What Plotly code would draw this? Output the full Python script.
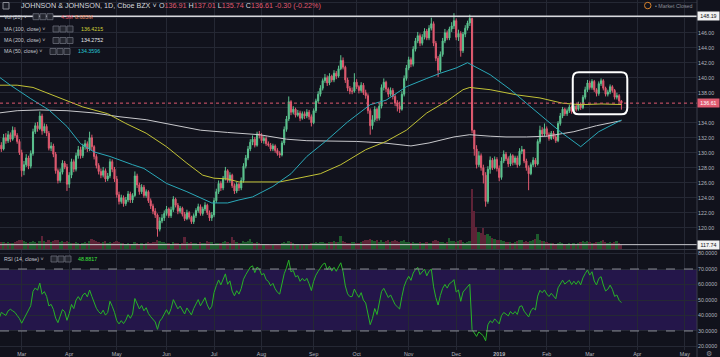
import pandas as pd
import plotly.graph_objects as go

# ---------------- data ----------------
first_open = 130.6
close_feb18 = [131.0, 130.5, 132.0, 131.6, 132.4, 131.8, 133.0, 132.3, 131.5, 130.0]
high_feb18 = [131.6, 131.4, 132.5, 132.6, 132.9, 132.7, 133.5, 133.4, 132.6, 131.8]
low_feb18 = [129.9, 130.1, 130.3, 131.2, 131.3, 131.4, 131.6, 132.0, 131.2, 129.7]
close_mar18 = [127.6, 128.4, 129.3, 128.2, 129.9, 132.8, 133.6, 133.2, 134.9, 132.9, 133.5, 132.6, 130.6, 130.9, 129.8, 127.6, 126.3, 127.4, 128.6, 128.1]
high_mar18 = [130.4, 128.9, 129.8, 129.6, 130.3, 133.2, 134.0, 134.1, 135.5, 135.2, 133.9, 133.8, 132.9, 131.4, 131.2, 130.1, 127.9, 127.9, 129.0, 128.9]
low_mar18 = [126.8, 127.0, 128.1, 127.8, 127.9, 129.6, 132.5, 132.8, 133.0, 132.4, 132.6, 132.2, 130.3, 130.2, 129.4, 127.2, 125.9, 126.0, 127.1, 127.8]
close_apr18 = [125.8, 127.0, 128.8, 127.8, 129.6, 130.4, 129.6, 130.8, 131.2, 130.5, 132.0, 130.8, 129.5, 128.3, 127.5, 127.0, 127.6, 126.5, 126.9, 128.8, 127.8]
high_apr18 = [128.5, 127.4, 129.2, 129.1, 130.0, 130.9, 130.8, 131.2, 131.7, 131.5, 132.8, 132.4, 131.0, 129.8, 128.6, 127.9, 128.1, 127.9, 127.3, 129.2, 129.1]
low_apr18 = [124.9, 125.3, 126.6, 127.4, 127.5, 129.2, 129.2, 129.3, 130.4, 130.1, 130.2, 130.3, 129.1, 127.9, 127.1, 126.6, 126.7, 126.1, 126.2, 126.6, 127.4]
close_may18 = [126.5, 124.4, 123.5, 124.0, 123.2, 123.7, 124.5, 123.7, 124.3, 126.9, 125.7, 124.8, 125.4, 124.3, 124.8, 123.6, 122.9, 122.2, 121.7, 119.8, 120.9, 121.3]
high_may18 = [128.1, 126.9, 124.8, 124.4, 124.3, 124.1, 124.9, 124.8, 124.6, 127.5, 127.2, 126.0, 125.8, 125.7, 125.1, 125.0, 123.9, 123.2, 122.6, 121.9, 121.4, 121.8]
low_may18 = [126.1, 124.0, 123.1, 123.2, 122.8, 122.9, 123.4, 123.3, 123.3, 124.1, 125.3, 124.4, 124.5, 124.0, 124.0, 123.3, 122.5, 121.8, 121.3, 118.8, 119.5, 120.6]
close_jun18 = [121.9, 122.5, 121.6, 122.4, 123.8, 123.0, 122.2, 122.6, 121.8, 121.2, 122.0, 121.4, 120.8, 121.6, 122.3, 122.8, 121.9, 122.5, 123.0, 122.0, 121.3]
high_jun18 = [122.3, 122.9, 122.7, 122.8, 124.2, 124.0, 123.3, 122.9, 122.8, 122.1, 122.4, 122.2, 121.6, 121.9, 122.6, 123.2, 123.1, 122.8, 123.4, 123.2, 122.3]
low_jun18 = [120.9, 121.6, 121.3, 121.3, 122.1, 122.7, 121.8, 121.9, 121.5, 120.9, 121.0, 121.1, 120.5, 120.5, 121.3, 122.0, 121.6, 121.6, 122.2, 121.7, 120.9]
close_jul18 = [121.7, 123.6, 124.8, 125.9, 125.3, 126.6, 127.6, 126.3, 127.0, 125.6, 124.9, 125.8, 125.3, 126.3, 128.2, 129.3, 130.5, 131.4, 131.8, 131.0, 132.5]
high_jul18 = [122.1, 124.0, 125.2, 126.3, 126.2, 126.9, 128.1, 127.8, 127.4, 127.2, 125.9, 126.1, 126.0, 126.7, 128.6, 129.7, 130.9, 131.8, 132.3, 132.1, 132.8]
low_jul18 = [120.9, 121.4, 123.3, 124.5, 124.9, 125.0, 126.3, 126.0, 126.0, 125.3, 124.5, 124.6, 124.9, 125.0, 126.0, 127.9, 129.0, 130.2, 131.0, 130.7, 130.8]
close_aug18 = [132.3, 131.6, 131.9, 131.2, 131.0, 130.5, 130.9, 130.3, 129.9, 129.7, 131.3, 133.1, 134.5, 136.8, 135.4, 135.8, 135.0, 135.3, 134.6, 135.2, 134.9, 135.4, 134.8]
high_aug18 = [132.9, 132.6, 132.2, 132.2, 131.5, 131.3, 131.2, 131.1, 130.6, 130.2, 131.6, 133.5, 134.9, 137.5, 137.0, 136.2, 136.0, 135.7, 135.6, 135.5, 135.5, 135.8, 135.7]
low_aug18 = [131.9, 131.3, 131.2, 130.9, 130.8, 130.2, 130.2, 130.0, 129.6, 129.3, 129.5, 131.0, 132.8, 134.2, 135.0, 135.1, 134.7, 134.8, 134.2, 134.4, 134.5, 134.6, 134.4]
close_sep18 = [134.0, 135.6, 136.9, 137.8, 138.6, 139.6, 140.0, 139.3, 140.2, 139.7, 140.6, 140.2, 141.2, 142.3, 141.4, 139.7, 138.6, 138.2, 138.2]
high_sep18 = [135.1, 135.9, 137.2, 138.2, 139.0, 139.9, 140.5, 140.3, 140.6, 140.4, 141.0, 140.9, 141.6, 143.0, 142.7, 141.6, 140.0, 138.9, 138.7]
low_sep18 = [133.5, 133.8, 135.3, 136.6, 137.5, 138.3, 139.3, 138.9, 139.0, 139.4, 139.4, 139.8, 140.0, 141.0, 141.1, 139.3, 138.2, 137.8, 137.8]
close_oct18 = [139.4, 138.8, 138.3, 139.0, 138.0, 137.6, 135.6, 133.6, 134.4, 135.8, 134.6, 136.2, 138.7, 139.4, 138.5, 137.8, 138.3, 137.5, 136.6, 136.2, 135.8, 137.8, 139.9]
high_oct18 = [140.6, 139.8, 139.0, 139.4, 139.3, 138.4, 137.9, 135.9, 135.0, 136.2, 136.0, 136.6, 139.1, 139.9, 139.6, 138.7, 138.7, 138.6, 137.8, 137.0, 136.8, 138.2, 140.3]
low_oct18 = [138.0, 138.5, 137.9, 138.0, 137.7, 137.2, 135.2, 132.4, 133.1, 134.1, 134.2, 134.3, 135.9, 138.3, 138.1, 137.4, 137.5, 137.1, 136.2, 135.5, 135.3, 135.6, 137.5]
close_nov18 = [141.3, 142.4, 141.8, 143.8, 144.9, 145.6, 144.6, 145.4, 146.2, 145.3, 146.6, 147.2, 144.6, 142.6, 141.0, 143.1, 144.9, 146.0, 145.3, 146.5, 146.9]
high_nov18 = [141.7, 142.8, 142.7, 144.2, 145.3, 146.1, 145.9, 145.8, 146.6, 146.5, 147.0, 148.0, 147.5, 144.9, 142.9, 143.5, 145.3, 146.5, 146.3, 146.8, 147.4]
low_nov18 = [139.6, 141.0, 141.4, 141.5, 143.5, 144.6, 144.2, 144.3, 145.1, 145.0, 145.0, 146.3, 144.2, 142.2, 140.1, 140.7, 142.8, 144.6, 145.0, 145.0, 146.1]
close_dec18 = [147.6, 145.4, 145.9, 143.6, 145.8, 146.6, 147.3, 147.9, 133.0, 130.5, 128.4, 129.6, 128.0, 127.0, 123.5, 127.8, 129.0, 128.0, 129.1]
high_dec18 = [148.6, 147.9, 146.4, 146.2, 146.1, 147.0, 147.6, 148.4, 148.0, 132.5, 131.0, 130.2, 129.9, 128.4, 127.4, 128.2, 129.5, 129.3, 129.5]
low_dec18 = [146.5, 145.0, 144.9, 142.8, 143.3, 145.4, 146.3, 146.9, 132.6, 129.6, 127.9, 128.1, 127.6, 125.9, 122.8, 123.2, 127.2, 127.7, 127.8]
close_jan19 = [127.9, 126.7, 128.9, 129.8, 129.2, 128.5, 129.6, 128.7, 129.3, 128.4, 130.2, 130.4, 128.9, 128.0, 127.2, 128.4, 129.0, 128.5, 131.5, 133.0, 132.5]
high_jan19 = [129.4, 128.3, 129.4, 130.3, 130.1, 129.5, 129.9, 129.8, 129.6, 129.6, 130.6, 130.9, 130.5, 129.2, 128.3, 128.7, 129.4, 129.3, 131.8, 133.6, 133.4]
low_jan19 = [127.5, 126.2, 126.4, 128.6, 128.9, 128.1, 128.2, 128.3, 128.4, 128.0, 128.2, 129.8, 128.6, 127.6, 125.0, 127.0, 128.1, 128.1, 128.3, 131.2, 132.1]
close_feb19 = [133.2, 132.4, 131.9, 132.6, 132.1, 131.6, 133.9, 134.9, 135.8, 135.2, 135.6, 136.1, 135.5, 136.2, 135.8, 136.5, 136.0, 137.4, 138.4]
high_feb19 = [133.9, 133.5, 132.7, 132.9, 132.9, 132.4, 134.2, 135.3, 136.1, 136.0, 135.9, 136.4, 136.3, 136.5, 136.4, 136.8, 136.7, 137.7, 138.8]
low_feb19 = [132.2, 132.1, 131.6, 131.7, 131.8, 131.3, 131.4, 133.6, 134.6, 134.9, 134.9, 135.3, 135.2, 135.3, 135.5, 135.6, 135.7, 135.8, 137.1]
close_mar19 = [139.3, 138.7, 139.5, 138.4, 137.9, 139.2, 139.6, 138.6, 137.8, 138.1, 138.8, 138.3, 137.4, 137.6, 136.91, 136.61]
high_mar19 = [139.7, 139.6, 139.8, 139.7, 138.6, 139.5, 139.9, 139.8, 138.8, 138.4, 139.1, 139.0, 138.5, 138.0, 137.8, 137.01]
low_mar19 = [138.1, 138.4, 138.4, 138.1, 137.5, 137.6, 138.9, 138.3, 137.5, 137.5, 137.8, 138.0, 137.1, 137.1, 136.7, 135.74]

# volume, millions
vol_feb18 = [9, 8, 8, 7, 8, 7, 7, 8, 9, 10]
vol_mar18 = [11, 9, 8, 7, 8, 9, 8, 7, 9, 15, 9, 8, 10, 8, 9, 11, 10, 8, 9, 8]
vol_apr18 = [9, 8, 7, 7, 8, 7, 6, 7, 8, 7, 9, 12, 11, 9, 8, 7, 8, 9, 7, 8, 7]
vol_may18 = [8, 9, 8, 7, 7, 6, 7, 6, 6, 8, 7, 6, 7, 6, 7, 8, 7, 8, 8, 10, 9, 8]
vol_jun18 = [8, 7, 7, 6, 8, 7, 7, 6, 7, 14, 8, 7, 8, 7, 7, 6, 8, 7, 7, 9, 8]
vol_jul18 = [8, 6, 7, 7, 7, 8, 9, 8, 7, 14, 10, 8, 7, 7, 9, 8, 9, 12, 8, 7, 8]
vol_aug18 = [7, 6, 6, 6, 6, 5, 5, 6, 6, 6, 7, 8, 7, 9, 8, 7, 6, 6, 5, 5, 6, 6, 6]
vol_sep18 = [7, 7, 8, 7, 8, 8, 7, 7, 8, 8, 9, 8, 8, 15, 9, 8, 7, 7, 8]
vol_oct18 = [8, 7, 7, 8, 9, 10, 11, 12, 10, 9, 11, 8, 10, 8, 9, 10, 8, 9, 11, 9, 8, 9, 10]
vol_nov18 = [8, 8, 7, 8, 7, 7, 8, 7, 7, 8, 7, 7, 9, 10, 9, 8, 8, 7, 8, 13, 9]
vol_dec18 = [9, 8, 9, 10, 8, 7, 8, 9, 70, 44, 26, 20, 19, 24, 16, 18, 15, 13, 12]
vol_jan19 = [11, 10, 10, 9, 8, 8, 8, 7, 8, 9, 10, 10, 8, 9, 8, 9, 10, 12, 18, 10, 9]
vol_feb19 = [9, 8, 7, 7, 7, 6, 7, 8, 7, 6, 6, 7, 6, 7, 6, 7, 8, 9, 8]
vol_mar19 = [9, 8, 7, 7, 8, 8, 9, 11, 8, 7, 8, 7, 8, 9, 7, 4.3]

# RSI readings for the first 14 bars (before the 14-bar window fills)
rsi_head = [38, 42, 41, 40, 43, 44, 43, 42, 40, 38, 35, 38, 41, 43]

# moving averages: (bar index, value)
ma50_idx = [0, 5, 14, 22, 30, 36, 42, 49, 59, 64, 74, 83, 94, 101, 106, 112, 121, 129, 136, 145, 154, 164, 171, 180, 189, 195, 202, 207, 217, 226, 233, 240, 248, 257, 265, 275]
ma50_val = [140.1, 139.0, 137.2, 135.7, 133.5, 131.2, 130.1, 129.5, 128.4, 127.9, 125.9, 124.8, 123.3, 123.3, 123.7, 124.1, 125.5, 127.2, 129.5, 131.7, 134.1, 136.4, 137.0, 138.8, 139.9, 140.6, 141.3, 142.0, 140.4, 138.4, 136.6, 134.8, 132.8, 130.8, 132.8, 134.3596]
ma100_idx = [0, 8, 15, 22, 30, 37, 48, 56, 65, 74, 83, 90, 95, 101, 106, 124, 142, 151, 162, 171, 180, 189, 198, 205, 208, 217, 229, 239, 249, 257, 266, 275]
ma100_val = [139.0, 139.0, 138.7, 137.9, 137.0, 136.1, 135.2, 133.9, 132.6, 130.8, 128.6, 127.0, 126.6, 126.5, 126.1, 126.1, 127.2, 128.4, 130.4, 131.5, 133.0, 135.3, 136.9, 138.4, 138.7, 138.4, 137.7, 137.3, 136.6, 136.4, 136.5, 136.4215]
ma200_idx = [0, 8, 18, 30, 42, 53, 65, 77, 89, 101, 106, 115, 127, 136, 158, 170, 182, 190, 201, 208, 217, 224, 233, 242, 254, 264, 275]
ma200_val = [135.3, 135.6, 135.7, 135.6, 135.3, 134.8, 134.4, 133.7, 133.0, 132.7, 132.6, 132.4, 131.8, 131.6, 131.5, 131.3, 130.9, 131.3, 132.1, 132.4, 132.2, 132.1, 132.1, 132.2, 132.8, 133.6, 134.2752]

holidays = ["2018-02-19", "2018-03-30", "2018-05-28", "2018-07-04", "2018-09-03", "2018-11-22",
            "2018-12-05", "2018-12-25", "2019-01-01", "2019-01-21", "2019-02-18", "2019-04-19", "2019-05-27"]
month_names = ["2019", "Feb", "Mar", "Apr", "May", "Jun", "Jul", "Aug", "Sep", "Oct", "Nov", "Dec"]
price_ticks = [120, 122, 124, 126, 128, 130, 132, 134, 136, 138, 140, 142, 144, 146, 148, 150]
hline_top = 148.19
hline_bottom = 117.74
last_price = 136.61

# ---------------- assemble ----------------
closes = (close_feb18 + close_mar18 + close_apr18 + close_may18 + close_jun18 + close_jul18 + close_aug18 +
          close_sep18 + close_oct18 + close_nov18 + close_dec18 + close_jan19 + close_feb19 + close_mar19)
highs = (high_feb18 + high_mar18 + high_apr18 + high_may18 + high_jun18 + high_jul18 + high_aug18 +
         high_sep18 + high_oct18 + high_nov18 + high_dec18 + high_jan19 + high_feb19 + high_mar19)
lows = (low_feb18 + low_mar18 + low_apr18 + low_may18 + low_jun18 + low_jul18 + low_aug18 +
        low_sep18 + low_oct18 + low_nov18 + low_dec18 + low_jan19 + low_feb19 + low_mar19)
vols = (vol_feb18 + vol_mar18 + vol_apr18 + vol_may18 + vol_jun18 + vol_jul18 + vol_aug18 +
        vol_sep18 + vol_oct18 + vol_nov18 + vol_dec18 + vol_jan19 + vol_feb19 + vol_mar19)
opens = [first_open] + closes[:-1]
n = len(closes)
idx = list(range(n))

hol = set(pd.to_datetime(holidays))
days = [d for d in pd.bdate_range("2018-02-14", "2019-05-31") if d not in hol]
tick_idx, tick_txt = [], []
for i in range(1, len(days)):
    if days[i].month != days[i - 1].month:
        tick_idx.append(i)
        t = month_names[days[i].month - 1]
        tick_txt.append("<b>2019</b>" if t == "2019" else t)

def rsi_calc(c, p=14):
    out = [None] * len(c)
    g = [max(c[i] - c[i - 1], 0) for i in range(1, len(c))]
    l = [max(c[i - 1] - c[i], 0) for i in range(1, len(c))]
    ag = sum(g[:p]) / p
    al = sum(l[:p]) / p
    out[p] = 100 - 100 / (1 + ag / al)
    for i in range(p + 1, len(c)):
        ag = (ag * (p - 1) + g[i - 1]) / p
        al = (al * (p - 1) + l[i - 1]) / p
        out[i] = 100 - 100 / (1 + ag / al)
    return out

rsi = rsi_calc(closes)
rsi[:len(rsi_head)] = rsi_head

UP, DN = "#5cc38f", "#e05a70"
BG = "#11121c"
GRID = "#252834"
TXT = "#b2b5be"
FONT = "Liberation Sans, Arial, sans-serif"

W_PLOT, H_PLOT = 697.0, 350.0
def px(x):
    return x / W_PLOT
def py(y):
    return 1 - y / H_PLOT

fig = go.Figure()
vcol = ["#1d5a2c" if closes[i] >= opens[i] else "#5e2337" for i in idx]
fig.add_trace(go.Bar(x=idx, y=vols, marker_color=vcol, marker_line_width=0, width=0.8,
                     xaxis="x", yaxis="y3", hoverinfo="skip"))
fig.add_trace(go.Candlestick(x=idx, open=opens, high=highs, low=lows, close=closes,
                             increasing=dict(line=dict(color=UP, width=1), fillcolor=UP),
                             decreasing=dict(line=dict(color=DN, width=1), fillcolor=DN),
                             whiskerwidth=0, xaxis="x", yaxis="y"))
fig.add_trace(go.Scatter(x=ma200_idx, y=ma200_val, mode="lines", line=dict(color="#c8c8cc", width=1), xaxis="x", yaxis="y"))
fig.add_trace(go.Scatter(x=ma100_idx, y=ma100_val, mode="lines", line=dict(color="#c2c236", width=1), xaxis="x", yaxis="y"))
fig.add_trace(go.Scatter(x=ma50_idx, y=ma50_val, mode="lines", line=dict(color="#2aa8b8", width=1), xaxis="x", yaxis="y"))
fig.add_trace(go.Scatter(x=idx, y=rsi, mode="lines", line=dict(color="#27b327", width=1), xaxis="x2", yaxis="y2"))

price_dom = [1 - 249 / H_PLOT, 1]
rsi_dom = [0, 1 - 250 / H_PLOT]
xr = [0.41, 308.4]

shapes = []
shapes.append(dict(type="rect", xref="paper", yref="y2", x0=0, x1=1, y0=30, y1=70,
                   fillcolor="#24164a", line_width=0, layer="below"))
for lv in (70, 30):
    shapes.append(dict(type="line", xref="paper", yref="y2", x0=0, x1=1, y0=lv, y1=lv,
                       line=dict(color="#8c8e99", width=1, dash="dash")))
shapes.append(dict(type="line", xref="paper", yref="y", x0=0, x1=1, y0=hline_top, y1=hline_top,
                   line=dict(color="#d8d8dc", width=1.5)))
shapes.append(dict(type="line", xref="paper", yref="y", x0=0, x1=1, y0=hline_bottom, y1=hline_bottom,
                   line=dict(color="#c8c8cc", width=1)))
shapes.append(dict(type="line", xref="paper", yref="y", x0=0, x1=1, y0=last_price, y1=last_price,
                   line=dict(color=DN, width=1, dash="dot")))
x0, x1, y0, y1 = 253.5, 277.6, 135.12, 140.72
rx, ry = 2.7, 0.85
path = (f"M {x0+rx},{y1} L {x1-rx},{y1} Q {x1},{y1} {x1},{y1-ry} L {x1},{y0+ry} Q {x1},{y0} {x1-rx},{y0} "
        f"L {x0+rx},{y0} Q {x0},{y0} {x0},{y0+ry} L {x0},{y1-ry} Q {x0},{y1} {x0+rx},{y1} Z")
shapes.append(dict(type="path", xref="x", yref="y", path=path, line=dict(color="#ffffff", width=2)))
shapes.append(dict(type="line", xref="paper", yref="paper", x0=0, x1=1, y0=py(249.5), y1=py(249.5),
                   line=dict(color="#3a3d48", width=1)))
shapes.append(dict(type="line", xref="paper", yref="paper", x0=1, x1=1, y0=py(357), y1=1,
                   line=dict(color="#3a3d48", width=1)))
shapes.append(dict(type="rect", xref="paper", yref="paper", x0=px(3), x1=px(9), y0=py(9), y1=py(2.5),
                   line=dict(color="#8a8d96", width=1), fillcolor="#1c1e28"))
def buttons(xs, ymid):
    for k in range(3):
        xa = xs + k * 7
        shapes.append(dict(type="rect", xref="paper", yref="paper", x0=px(xa), x1=px(xa + 6),
                           y0=py(ymid + 3), y1=py(ymid - 3), line=dict(color="#6a6d78", width=0.8),
                           fillcolor="#24262f"))
buttons(33, 16.7)
buttons(53, 29)
buttons(53, 40.5)
buttons(50, 51.5)
buttons(51, 259)
shapes.append(dict(type="circle", xref="paper", yref="paper", x0=px(644.5), x1=px(651), y0=py(8.8), y1=py(2.3),
                   line=dict(color="#d9822b", width=1)))

ann = []
def txt(x, y, s, size=5.3, color=TXT, xanchor="left"):
    ann.append(dict(xref="paper", yref="paper", x=px(x), y=py(y), text=s, showarrow=False,
                    xanchor=xanchor, yanchor="middle", font=dict(family=FONT, size=size, color=color)))

txt(19, 5.7, "JOHNSON & JOHNSON, 1D, Cboe BZX ˅", size=7.2, color="#d6d8de")
r = DN
txt(157, 5.7, f"O<span style='color:{r}'>136.91</span> H<span style='color:{r}'>137.01</span> "
    f"L<span style='color:{r}'>135.74</span> C<span style='color:{r}'>136.61</span> "
    f"<span style='color:{r}'>-0.30 (-0.22%)</span>", size=7.2, color="#d6d8de")
txt(2, 16.7, "Vol (20) ˅", color="#c4c6ce")
txt(58.5, 16.7, "4.3M", color="#e0505f")
txt(73, 16.7, "8.685M", color="#e8875f")
txt(2, 29, "MA (100, close) ˅", color="#c4c6ce")
txt(79, 29, "136.4215", color="#d4d43a")
txt(2, 40.5, "MA (200, close) ˅", color="#c4c6ce")
txt(79, 40.5, "134.2752", color="#e8e8ea")
txt(2, 51.5, "MA (50, close) ˅", color="#c4c6ce")
txt(76, 51.5, "134.3596", color="#27c4d4")
txt(2, 259, "RSI (14, close) ˅", color="#c4c6ce")
txt(76, 259, "48.8817", color="#3ee63e")
txt(653, 5.6, "• Market Closed", size=5.3, color="#8a8d96")
txt(708.5, 353, "⚙", size=7, color="#8a8d96", xanchor="center")

for val, bg, fg in ((hline_top, "#f2f2f2", "#111111"), (last_price, DN, "#ffffff"), (hline_bottom, "#f2f2f2", "#111111")):
    ann.append(dict(xref="paper", yref="y", x=1.0, y=val, text=f"{val:.2f}", showarrow=False,
                    xanchor="left", yanchor="middle", bgcolor=bg, borderpad=1, width=19,
                    font=dict(family=FONT, size=5.3, color=fg)))

# tick labels hidden where a price box sits on top of them
price_ticktext = ["" if t in (136, 148) else f"{t:.2f}" for t in price_ticks]

fig.update_layout(
    width=720, height=357, margin=dict(l=0, r=23, t=0, b=7, autoexpand=False),
    paper_bgcolor=BG, plot_bgcolor=BG, showlegend=False, bargap=0,
    shapes=shapes, annotations=ann,
    font=dict(family=FONT, size=5.3, color=TXT),
    xaxis=dict(domain=[0, 1], anchor="y", range=xr, tickvals=tick_idx, showticklabels=False,
               showgrid=True, gridcolor=GRID, gridwidth=1, zeroline=False, rangeslider=dict(visible=False),
               ticks="", automargin=False),
    xaxis2=dict(domain=[0, 1], anchor="y2", matches="x", range=xr, tickvals=tick_idx, ticktext=tick_txt,
                showgrid=True, gridcolor=GRID, gridwidth=1, zeroline=False, ticks="", automargin=False,
                tickfont=dict(family=FONT, size=5.3, color=TXT), rangeslider=dict(visible=False)),
    yaxis=dict(domain=price_dom, anchor="x", side="right", range=[117.16, 150.36], automargin=False,
               tickvals=price_ticks, ticktext=price_ticktext, showgrid=True, gridcolor=GRID,
               zeroline=False, ticks="", tickfont=dict(family=FONT, size=5.3, color=TXT)),
    yaxis3=dict(overlaying="y", anchor="x", range=[0, 290], visible=False, automargin=False),
    yaxis2=dict(domain=rsi_dom, anchor="x2", side="right", range=[17.7, 82.3], automargin=False,
                tickvals=[20, 30, 40, 50, 60, 70, 80], tickformat=".4f", showgrid=True, gridcolor=GRID,
                zeroline=False, ticks="", tickfont=dict(family=FONT, size=5.3, color=TXT)),
)

fig.write_html("out.html", config={"displayModeBar": False},
               post_script="document.body.style.margin='0';document.body.style.overflow='hidden';")
